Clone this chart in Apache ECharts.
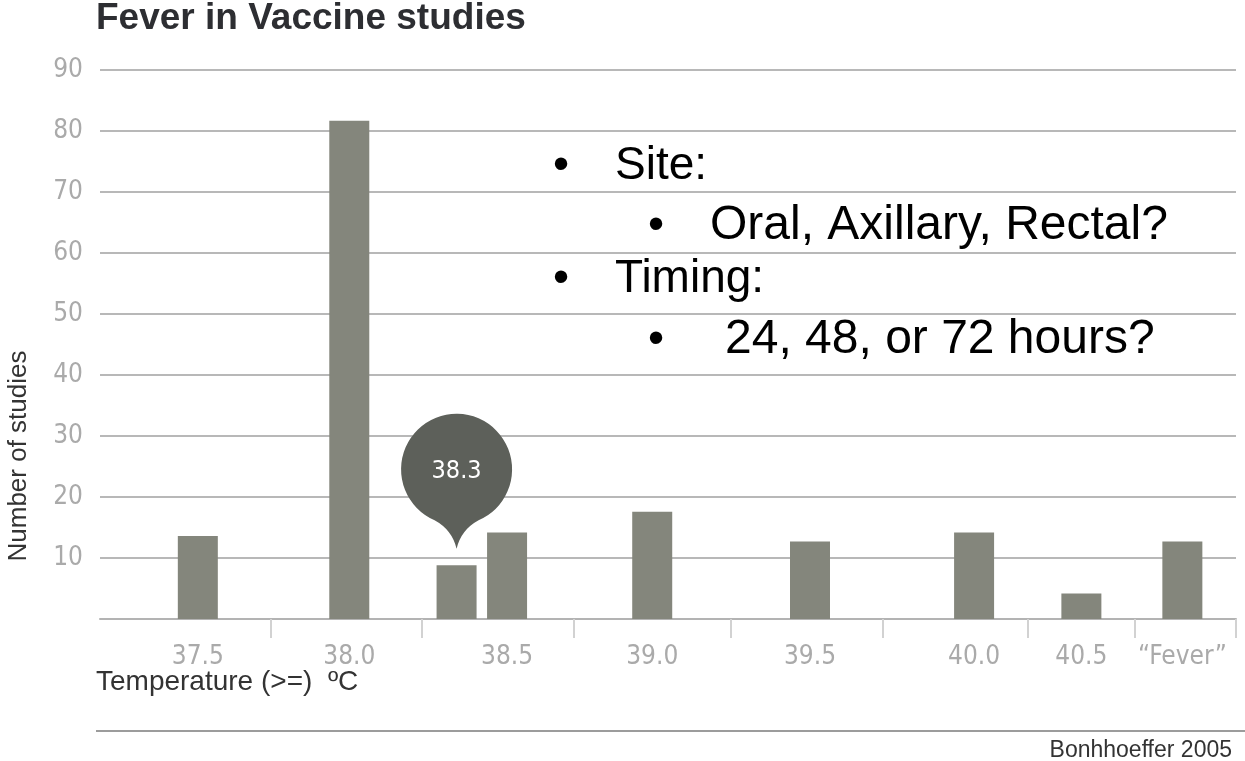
<!DOCTYPE html>
<html>
<head>
<meta charset="utf-8">
<title>Fever in Vaccine studies</title>
<script src="https://cdn.jsdelivr.net/npm/echarts@6/dist/echarts.min.js"></script>
<style>
  html, body { margin: 0; padding: 0; background: #fff; }
  #main { width: 1245px; height: 761px; }
</style>
</head>
<body>
<div id="main"></div>
<script>
// data
const categories = ['37.5', '38.0', '38.3', '38.5', '39.0', '39.5', '40.0', '40.5', '“Fever”']
const studies = [13.6, 81.7, 8.8, 14.2, 17.6, 12.7, 14.2, 4.2, 12.7]
const tickLabels = ['37.5', '38.0', '', '38.5', '39.0', '39.5', '40.0', '40.5', '“Fever”']
const bubbleIndex = 2

// the x axis is not to scale in the original, so it is split into thin slots
const SLOTS = 180
const barSlot = [15, 39, 56, 64, 87, 112, 138, 155, 171]
const dividerSlot = [27, 51, 75, 100, 124, 147, 164]

const axisData = new Array(SLOTS).fill('')
const barData = new Array(SLOTS).fill('-')
const labelAt = {}
barSlot.forEach((s, i) => {
  axisData[s] = categories[i]
  barData[s] = studies[i]
  labelAt[s] = tickLabels[i]
})

const narrow = "'Liberation Sans Narrow', 'DejaVu Sans Condensed', 'Roboto Condensed', sans-serif"
const sans = "'Liberation Sans', Arial, sans-serif"

const myChart = echarts.init(document.getElementById('main'))

function note(x, y, text, size) {
  return {
    type: 'text', x: x, y: y, silent: true,
    style: { text: text, fontSize: size, fontFamily: sans, fill: '#000', verticalAlign: 'middle', textVerticalAlign: 'middle' }
  }
}

const option = {
  animation: false,
  grid: { left: 100, right: 9, top: 70, bottom: 142, containLabel: false },
  xAxis: {
    type: 'category',
    data: axisData,
    boundaryGap: true,
    axisLine: { lineStyle: { color: '#b3b3b3', width: 2 } },
    axisTick: {
      show: true,
      length: 19,
      interval: (i) => dividerSlot.includes(i),
      lineStyle: { color: '#d2d2d2', width: 2 }
    },
    axisLabel: {
      interval: (i) => barSlot.includes(i),
      formatter: (v, i) => labelAt[i] || '',
      color: '#aaaaaa',
      fontSize: 26,
      fontFamily: narrow,
      margin: 25
    }
  },
  yAxis: {
    type: 'value',
    min: 0,
    max: 90,
    interval: 10,
    axisLine: { show: false },
    axisTick: { show: false },
    axisLabel: {
      formatter: (v) => (v === 0 ? '' : v),
      color: '#aaaaaa',
      fontSize: 26,
      fontFamily: narrow,
      margin: 17
    },
    splitLine: { lineStyle: { color: '#b8b8b8', width: 2 } }
  },
  series: [{
    type: 'bar',
    data: barData,
    barWidth: 40,
    itemStyle: { color: '#84867c' },
    silent: true,
    markPoint: {
      silent: true,
      symbol: 'path://M55.5 135 Q51 116 33.5 106.5 A55.5 55.5 0 1 1 77.5 106.5 Q60 116 55.5 135 Z',
      symbolSize: [111, 135],
      symbolOffset: [0, -84],
      itemStyle: { color: '#5d605a' },
      label: {
        show: true,
        position: 'inside',
        offset: [0, -10],
        color: '#fff',
        fontSize: 25,
        fontFamily: narrow,
        formatter: categories[bubbleIndex]
      },
      data: [{ coord: [barSlot[bubbleIndex], studies[bubbleIndex]] }]
    }
  }],
  graphic: [
    {
      type: 'text', x: 96, y: 19, silent: true,
      style: { text: 'Fever in Vaccine studies', fontSize: 37, fontWeight: 'bold', fontFamily: sans, fill: '#2d2e32', verticalAlign: 'middle', textVerticalAlign: 'middle' }
    },
    {
      type: 'text', x: 19, y: 456, rotation: Math.PI / 2, silent: true,
      style: { text: 'Number of studies', fontSize: 26, fontFamily: sans, fill: '#333', align: 'center', textAlign: 'center', verticalAlign: 'middle', textVerticalAlign: 'middle' }
    },
    {
      type: 'text', x: 96, y: 682, silent: true,
      style: { text: 'Temperature (>=)  ºC', fontSize: 28, fontFamily: sans, fill: '#333', verticalAlign: 'middle', textVerticalAlign: 'middle' }
    },
    {
      type: 'line', silent: true,
      shape: { x1: 96, y1: 731, x2: 1245, y2: 731 },
      style: { stroke: '#9c9c9c', lineWidth: 2 }
    },
    {
      type: 'text', x: 1232, y: 751, silent: true,
      style: { text: 'Bonhhoeffer 2005', fontSize: 23, fontFamily: sans, fill: '#333', align: 'right', textAlign: 'right', verticalAlign: 'middle', textVerticalAlign: 'middle' }
    },
    note(553, 166, '•', 46), note(615, 166, 'Site:', 46),
    note(648, 226, '•', 46), note(710, 226, 'Oral, Axillary, Rectal?', 48),
    note(553, 279, '•', 46), note(615, 279, 'Timing:', 46),
    note(648, 340, '•', 46), note(725, 340, '24, 48, or 72 hours?', 48)
  ]
}

myChart.setOption(option)
</script>
</body>
</html>
